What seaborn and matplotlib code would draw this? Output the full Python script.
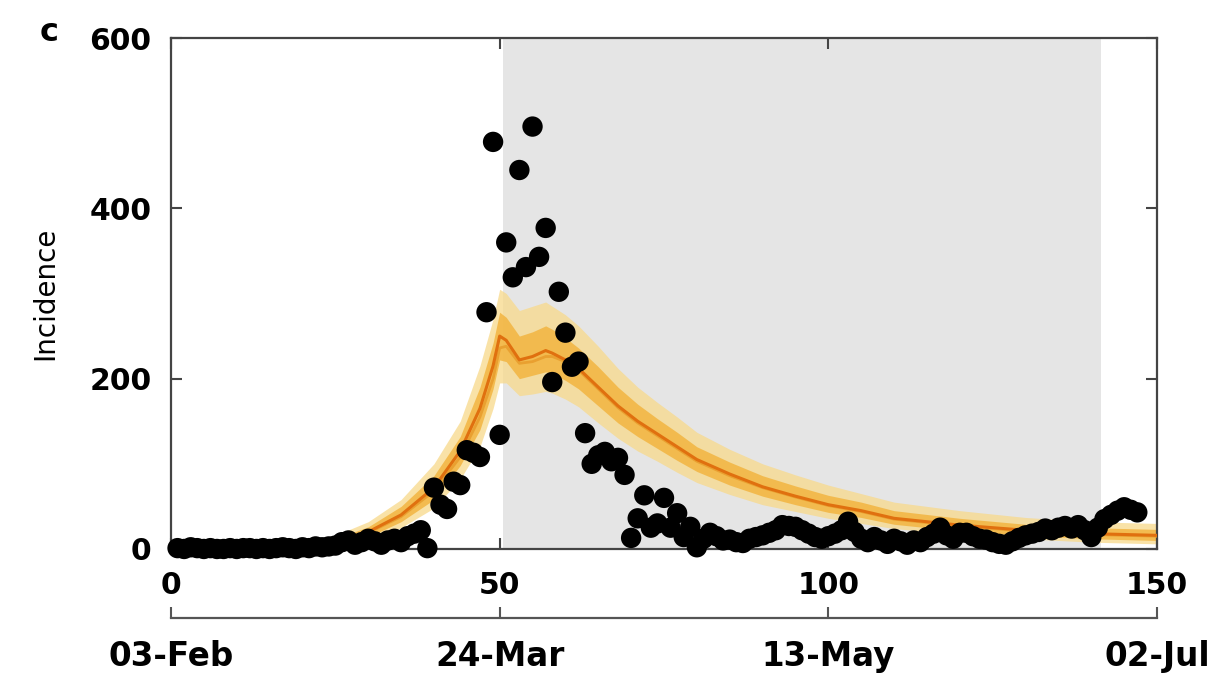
import numpy as np
import pandas as pd
import matplotlib
matplotlib.use("Agg")
import matplotlib.pyplot as plt
import seaborn as sns

# ---------------- data ----------------
obs_values = (
    [1, 0, 2, 1, 0, 1, 0, 0, 1, 0, 1, 1, 0, 1, 0, 1, 2, 1, 0, 2, 1, 3, 2, 3]          # days 1-24
    + [4, 8, 10, 5, 8, 12, 9, 5, 10, 12, 8, 15, 18, 22, 1]                              # 25-39
    + [72, 52, 47, 79, 75, 116, 113, 108]                                               # 40-47
    + [278, 478, 134, 360, 319, 445, 331, 496, 343, 377, 196, 302, 254, 214, 220, 136]  # 48-63
    + [100, 110, 114, 103, 107, 87, 13, 36, 63, 25, 30, 60, 25, 42, 14, 26, 2]          # 64-80
    + [12, 19, 15, 10, 11, 8, 7, 12, 14, 16, 19, 22, 28, 27, 26, 22, 18, 14, 12, 15]    # 81-100
    + [18, 22, 32, 20, 12, 8, 14, 10, 6, 12, 9, 5, 10, 8, 14, 18, 25, 16, 12, 19]       # 101-120
    + [19, 15, 12, 11, 8, 6, 5, 9, 13, 16, 18, 20, 24, 22, 25, 27, 24, 28, 22, 14,
       25, 35, 40, 45, 49, 46, 43]                                                      # 121-147
)
obs_days = list(range(1, len(obs_values) + 1))

model_days = [0, 10, 20, 25, 30, 35, 40, 44, 47, 49, 50, 51, 53, 55, 57, 58, 60, 62, 65, 68,
              71, 74, 77, 80, 85, 90, 95, 100, 105, 110, 120, 130, 140, 150]
model_median = [0, 1, 3, 8, 20, 40, 72, 115, 165, 215, 250, 245, 222, 226, 233, 230, 222, 212, 190, 168,
                150, 135, 120, 105, 88, 73, 62, 52, 45, 36, 28, 22, 18, 16]
model_second = [0, 1, 3, 8, 19, 38, 68, 108, 155, 200, 236, 238, 218, 220, 226, 226, 220, 210, 188, 166,
                148, 133, 118, 103, 86, 72, 61, 51, 44, 35, 27, 21, 17, 15]
outer_hi = [0, 3, 8, 16, 32, 58, 100, 150, 215, 270, 305, 300, 280, 285, 290, 285, 275, 262, 238, 212,
            190, 172, 155, 137, 117, 100, 87, 75, 65, 55, 45, 37, 32, 30]
outer_lo = [0, 0, 0, 2, 10, 25, 48, 82, 120, 165, 195, 195, 180, 182, 185, 183, 176, 167, 148, 130,
            115, 103, 90, 78, 64, 52, 44, 36, 30, 24, 17, 12, 8, 6]
inner_hi = [0, 2, 5, 12, 26, 50, 86, 132, 190, 242, 278, 272, 250, 255, 262, 258, 248, 236, 214, 190,
            170, 153, 137, 120, 102, 86, 74, 63, 55, 45, 36, 29, 25, 23]
inner_lo = [0, 0, 1, 5, 14, 32, 58, 98, 140, 188, 222, 220, 200, 204, 208, 206, 198, 188, 168, 148,
            132, 118, 104, 91, 75, 62, 52, 43, 37, 29, 21, 16, 12, 10]

shade_start, shade_end = 50.5, 141.5
x_ticks = [0, 50, 100, 150]
y_ticks = [0, 200, 400, 600]
date_labels = ["03-Feb", "24-Mar", "13-May", "02-Jul"]

obs_df = pd.DataFrame({"day": obs_days, "incidence": obs_values})
mod_df = pd.DataFrame({"day": model_days, "median": model_median, "second": model_second})

# ---------------- style ----------------
sns.set_theme(style="ticks")
plt.rcParams["font.family"] = ["DejaVu Sans"]
plt.rcParams["text.color"] = "black"
plt.rcParams["axes.labelcolor"] = "black"
plt.rcParams["xtick.labelcolor"] = "black"
plt.rcParams["ytick.labelcolor"] = "black"

fig = plt.figure(figsize=(12.16, 6.75), dpi=100)
L, B, W, H = 0.1406, 0.1867, 0.8109, 0.7570
ax = fig.add_axes([L, B, W, H])

ax.axvspan(shade_start, shade_end, color="#e5e5e5", lw=0, zorder=0)
ax.fill_between(model_days, outer_lo, outer_hi, color="#f8d98a", alpha=0.75, lw=0, zorder=1)
ax.fill_between(model_days, inner_lo, inner_hi, color="#f2b23a", alpha=0.8, lw=0, zorder=2)
sns.lineplot(data=mod_df, x="day", y="second", ax=ax, color="#e9a030", lw=2, zorder=3)
sns.lineplot(data=mod_df, x="day", y="median", ax=ax, color="#e0700f", lw=2.2, zorder=4)
sns.scatterplot(data=obs_df, x="day", y="incidence", ax=ax, color="black", s=215,
                edgecolor="none", zorder=5, clip_on=False)

ax.set_xlim(0, 150)
ax.set_ylim(0, 600)
ax.set_xticks(x_ticks)
ax.set_yticks(y_ticks)
ax.set_xlabel("")
ax.set_ylabel("Incidence", fontsize=20, labelpad=22, color="black")
ax.tick_params(axis="both", direction="in", length=8, width=1.5, color="#444444",
               top=True, right=True, labelsize=21.5, labelcolor="black")
ax.tick_params(axis="x", pad=16)
ax.tick_params(axis="y", pad=14)
for lab in ax.get_xticklabels() + ax.get_yticklabels():
    lab.set_fontweight("bold")
for sp in ax.spines.values():
    sp.set_visible(True)
    sp.set_color("#444444")
    sp.set_linewidth(1.6)

# date axis below
ax2 = fig.add_axes([L, 0.0844, W, 0.0001])
ax2.set_facecolor("none")
for k in ["left", "right", "top"]:
    ax2.spines[k].set_visible(False)
ax2.spines["bottom"].set_color("#555555")
ax2.spines["bottom"].set_linewidth(1.6)
ax2.set_xlim(0, 150)
ax2.set_yticks([])
ax2.set_xticks(x_ticks)
ax2.set_xticklabels(date_labels, fontsize=23.5, fontweight="bold", color="black")
ax2.tick_params(axis="x", direction="in", length=8, width=1.5, color="#555555", pad=16)

fig.text(0.04, 0.952, "c", fontsize=23, fontweight="bold", ha="center", va="center", color="black")

fig.savefig("out.png", dpi=100)
